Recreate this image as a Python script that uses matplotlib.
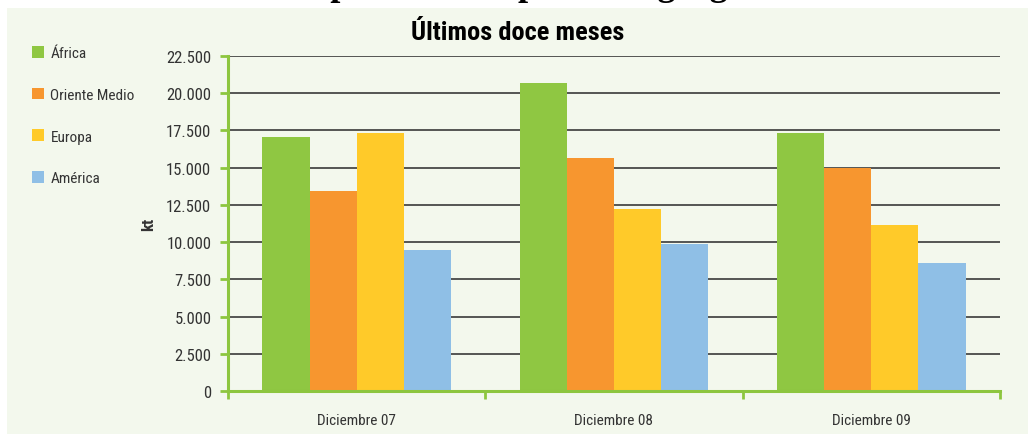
import matplotlib
matplotlib.use('Agg')
import matplotlib.pyplot as plt
from matplotlib import font_manager
from matplotlib.patches import Rectangle, Patch

# datos
categories = ['Diciembre 07', 'Diciembre 08', 'Diciembre 09']
series_names = ['África', 'Oriente Medio', 'Europa', 'América']
africa = [17050, 20700, 17350]
oriente_medio = [13400, 15650, 15000]
europa = [17350, 12200, 11150]
america = [9500, 9850, 8600]
y_ticks = [0, 2500, 5000, 7500, 10000, 12500, 15000, 17500, 20000, 22500]
y_tick_labels = ['0', '2.500', '5.000', '7.500', '10.000', '12.500',
                 '15.000', '17.500', '20.000', '22.500']

# colores [verde, naranja, amarillo, azul]
color_list = ['#8fc742', '#f7962f', '#ffca29', '#8fbfe6']
bg = '#f3f8ed'
axis_green = '#8dc63f'
txt = '#333333'

# fuente estrecha si existe
names = {f.name for f in font_manager.fontManager.ttflist}
cond = 'DejaVu Sans'
for n in ['Roboto Condensed', 'Liberation Sans Narrow', 'Open Sans Condensed']:
    if n in names:
        cond = n
        break
plt.rcParams['font.family'] = [cond, 'DejaVu Sans']

fig = plt.figure(figsize=(10.28, 4.35), dpi=100, facecolor='white')
fig.add_artist(Rectangle((7/1028, 0), 1, (435-9)/435, transform=fig.transFigure,
                         facecolor=bg, edgecolor='none', zorder=-10))

# titulo cortado arriba (solo se ven los trazos inferiores)
fig.text(286/1028, 1 + 5/435, 'Importaciones por área geográfica', ha='left',
         va='baseline', fontsize=26, fontweight='bold',
         family=['Liberation Serif', 'DejaVu Serif'], color='black')

ax = fig.add_axes([228/1028, 43/435, 772/1028, 335/435])
ax.set_facecolor(bg)

data = [africa, oriente_medio, europa, america]
width = 0.183
x = list(range(len(categories)))
for i, vals in enumerate(data):
    xs = [k + (i - 1.5) * width for k in x]
    ax.bar(xs, vals, width=width, color=color_list[i], label=series_names[i],
           linewidth=0, zorder=2)

ax.set_xlim(-0.5, 2.5)
ax.set_ylim(0, 22500)
ax.set_yticks(y_ticks)
ax.set_yticklabels(y_tick_labels)
ax.set_xticks(x)
ax.set_xticklabels(categories)
ax.set_xticks([-0.5, 0.5, 1.5, 2.5], minor=True)

ax.set_axisbelow(True)
ax.yaxis.grid(True, color='#3a3a3a', linewidth=1.2)

for s in ['top', 'right']:
    ax.spines[s].set_visible(False)
for s in ['left', 'bottom']:
    ax.spines[s].set_color(axis_green)
    ax.spines[s].set_linewidth(2.2)
    ax.spines[s].set_zorder(3)

ax.tick_params(axis='y', length=6, width=2, color=axis_green, pad=6,
               labelsize=12, labelcolor=txt)
ax.tick_params(axis='x', which='major', length=0, pad=16, labelsize=11,
               labelcolor=txt)
ax.tick_params(axis='x', which='minor', length=6, width=2, color=axis_green)

ax.set_ylabel('kt', fontsize=12, fontweight='bold', color=txt, labelpad=7)

fig.text(518/1028, 1 - 33/435, 'Últimos doce meses', ha='center', va='center',
         fontsize=19, fontweight='bold', color='black')

handles = [Patch(facecolor=c, edgecolor='none') for c in color_list]
fig.legend(handles, series_names, loc='upper left',
           bbox_to_anchor=(26/1028, 1 - 41/435), frameon=False,
           handlelength=0.8, handleheight=0.8, handletextpad=0.4,
           labelspacing=1.8, fontsize=11, labelcolor=txt, borderaxespad=0)

fig.savefig('out.png', dpi=100, facecolor='white')
